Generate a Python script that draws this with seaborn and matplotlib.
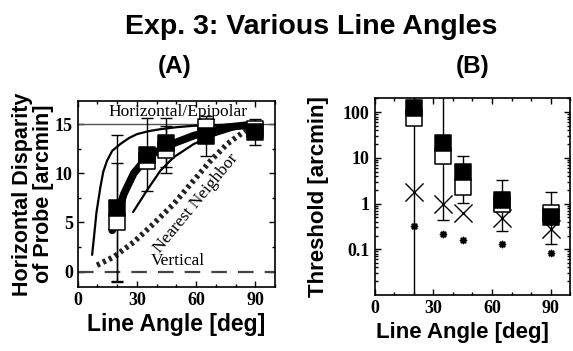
import numpy as np
import pandas as pd
import matplotlib
matplotlib.use("Agg")
import matplotlib.pyplot as plt
import matplotlib.ticker as mticker
import seaborn as sns

# ---- panel A data (horizontal disparity of probe, arcmin) ----
angles = [20, 35, 45, 65, 90]
dispFilled = [6.45, 11.9, 13.1, 13.8, 14.2]
dispFilledErr = [7.45, 3.7, 2.5, 2.0, 1.3]
dispOpen = [5.0, 11.3, 12.4, 14.75, 14.5]
dispOpenErr = [6.1, 0.8, 2.4, 0.5, 0.5]

leftX = [7.3, 8.1, 9.5, 11.5, 13, 14.9, 17.5, 21.7, 26, 30.1, 36, 42, 50, 58.9, 75, 90]
leftY = [1.7, 3.2, 6.0, 8.6, 10.2, 11.3, 12.3, 13.0, 13.6, 14.0, 14.3, 14.5, 14.7, 14.85, 14.95, 15.0]
thickX = [17.5, 20, 23.4, 28.4, 35.2, 45.3, 58.9, 75.8, 90]
thickY = [4.2, 5.8, 7.9, 10.0, 11.65, 12.8, 13.85, 14.7, 15.0]
rightX = [28.1, 35.2, 42, 48.7, 58.9, 69, 79.2, 90]
rightY = [6.07, 8.3, 10.3, 11.65, 13.0, 13.85, 14.5, 14.9]
nnX = [9.8, 18.3, 28.4, 38.6, 48.7, 58.9, 67.4, 75.8, 82.6, 88]
nnY = [0.65, 1.5, 3.0, 4.9, 6.9, 9.3, 11.3, 13.0, 14.0, 14.8]

# ---- panel B data (threshold, arcmin) ----
thrFilled = [121, 21, 4.85, 1.2, 0.50]
thrOpen = [73, 10.8, 2.28, 0.98, 0.62]
thrLow = [0.001, 0.44, 1.03, 0.256, 0.13]
thrHigh = [1000, 1000, 10.7, 3.3, 1.76]
thrCross = [1.82, 1.0, 0.62, 0.485, 0.28]
thrStar = [0.33, 0.22, 0.163, 0.131, 0.083]

sns.set_style("ticks")
plt.rcParams["font.family"] = ["Liberation Sans", "DejaVu Sans"]
plt.rcParams["xtick.direction"] = "in"
plt.rcParams["ytick.direction"] = "in"
plt.rcParams["text.color"] = "black"
plt.rcParams["axes.labelcolor"] = "black"
plt.rcParams["xtick.color"] = "black"
plt.rcParams["ytick.color"] = "black"

fig = plt.figure(figsize=(5.73, 3.51), dpi=100)
fig.patch.set_facecolor("white")

serif = ["Liberation Serif", "DejaVu Serif"]

fig.text(0.543, 1 - 27 / 351, "Exp. 3: Various Line Angles", ha="center", va="center",
         fontsize=20.5, fontweight="bold")
fig.text(175 / 573, 1 - 67 / 351, "(A)", ha="center", va="center", fontsize=17.5, fontweight="bold")
fig.text(473 / 573, 1 - 67 / 351, "(B)", ha="center", va="center", fontsize=17.5, fontweight="bold")


def style_axis(ax):
    for s in ax.spines.values():
        s.set_linewidth(1.2)
        s.set_color("black")
    ax.tick_params(which="both", top=True, right=True, width=1, colors="black")
    ax.tick_params(which="major", length=4)
    ax.tick_params(which="minor", length=2.5)
    for lab in ax.get_xticklabels() + ax.get_yticklabels():
        lab.set_family(serif)
        lab.set_fontweight("bold")
        lab.set_fontsize(13)


# ---------------- panel A ----------------
axA = fig.add_axes([0.1356, 0.1815, 0.3443, 0.5316])
axA.axhline(15, color="#555555", lw=1.0, zorder=1)
axA.axhline(0, color="#444444", lw=1.6, ls=(0, (7, 5)), zorder=1)

sns.lineplot(x=nnX, y=nnY, ax=axA, color="#222222", lw=4, sort=False, zorder=2)
nnLine = axA.lines[-1]
nnLine.set_dashes([0.55, 0.65])
nnLine.set_dash_capstyle("butt")
sns.lineplot(x=leftX, y=leftY, ax=axA, color="black", lw=1.6, sort=False, zorder=3)
sns.lineplot(x=rightX, y=rightY, ax=axA, color="black", lw=1.6, sort=False, zorder=3)
sns.lineplot(x=thickX, y=thickY, ax=axA, color="black", lw=5.5, sort=False, zorder=3)

axA.errorbar(angles, dispOpen, yerr=dispOpenErr, fmt="none", ecolor="black",
             elinewidth=1, capsize=4, capthick=1, zorder=4)
axA.errorbar(angles, dispFilled, yerr=dispFilledErr, fmt="none", ecolor="black",
             elinewidth=1, capsize=4, capthick=1, zorder=4)
sns.scatterplot(x=angles, y=dispOpen, ax=axA, marker="s", s=120, color="white",
                edgecolor="black", linewidth=1.1, zorder=5)
sns.scatterplot(x=angles, y=dispFilled, ax=axA, marker="s", s=120, color="black",
                edgecolor="black", linewidth=1.1, zorder=6)

axA.text(50.8, 16.2, "Horizontal/Epipolar", ha="center", va="center",
         family=serif, fontsize=12.5, zorder=7)
axA.text(50.8, 1.05, "Vertical", ha="center", va="center", family=serif,
         fontsize=12.5, zorder=7)
axA.text(60, 7.0, "Nearest Neighbor", ha="center", va="center", family=serif,
         fontsize=12.5, rotation=50.5, rotation_mode="anchor", zorder=7)

axA.set_xlim(0, 100)
axA.set_ylim(-1.6, 17.4)
axA.xaxis.set_major_locator(mticker.FixedLocator([0, 30, 60, 90]))
axA.xaxis.set_minor_locator(mticker.MultipleLocator(10))
axA.yaxis.set_major_locator(mticker.FixedLocator([0, 5, 10, 15]))
axA.yaxis.set_minor_locator(mticker.MultipleLocator(2.5))
axA.set_xlabel("Line Angle [deg]", fontsize=16.5, fontweight="bold", labelpad=3)
axA.set_ylabel("Horizontal Disparity\nof Probe [arcmin]", fontsize=15.5,
               fontweight="bold", labelpad=0.5, linespacing=1.0)
style_axis(axA)

# ---------------- panel B ----------------
axB = fig.add_axes([0.6536, 0.1595, 0.342, 0.5604])
axB.set_yscale("log")
lowErr = np.array(thrFilled) - np.array(thrLow)
highErr = np.array(thrHigh) - np.array(thrFilled)
axB.errorbar(angles, thrFilled, yerr=[lowErr, highErr], fmt="none", ecolor="black",
             elinewidth=1, capsize=4, capthick=1, zorder=2)
sns.scatterplot(x=angles, y=thrCross, ax=axB, marker="x", s=170, color="black",
                linewidth=1.0, zorder=3)
sns.scatterplot(x=angles, y=thrStar, ax=axB, marker=(8, 2, 0), s=18, color="black",
                linewidth=1.2, zorder=3)
sns.scatterplot(x=angles, y=thrOpen, ax=axB, marker="s", s=120, color="white",
                edgecolor="black", linewidth=1.1, zorder=4)
sns.scatterplot(x=angles, y=thrFilled, ax=axB, marker="s", s=120, color="black",
                edgecolor="black", linewidth=1.1, zorder=5)

axB.set_xlim(0, 100)
axB.set_ylim(0.01, 200)
axB.xaxis.set_major_locator(mticker.FixedLocator([0, 30, 60, 90]))
axB.xaxis.set_minor_locator(mticker.MultipleLocator(10))
axB.yaxis.set_major_locator(mticker.FixedLocator([0.1, 1, 10, 100]))
axB.yaxis.set_major_formatter(mticker.FixedFormatter(["0.1", "1", "10", "100"]))
axB.yaxis.set_minor_locator(mticker.LogLocator(base=10, subs=np.arange(2, 10)))
axB.yaxis.set_minor_formatter(mticker.NullFormatter())
axB.set_xlabel("Line Angle [deg]", fontsize=16, fontweight="bold")
axB.xaxis.set_label_coords(0.45, -0.135)
axB.set_ylabel("Threshold [arcmin]", fontsize=16, fontweight="bold", labelpad=10)
style_axis(axB)

fig.savefig("out.png", dpi=100, facecolor="white")
